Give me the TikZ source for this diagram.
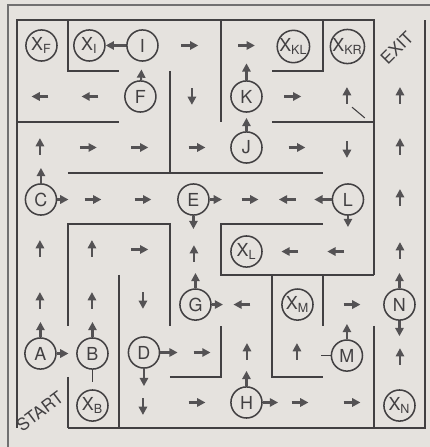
\documentclass[tikz,border=0pt]{standalone}
\usepackage{fontspec}
\setmainfont{TeX Gyre Heros}
\usepackage{tikz}
\usetikzlibrary{arrows.meta}
\definecolor{paper}{RGB}{229,226,222}
\definecolor{ink}{RGB}{66,64,66}
\definecolor{pen}{RGB}{84,82,84}

\tikzset{
  wall/.style={draw=ink, line width=0.9pt},
  room/.style={circle, draw=ink, line width=0.85pt, minimum size=0.61cm, inner sep=0pt,
    text=ink, font=\fontsize{10}{12}\selectfont},
  sign/.style={text=ink, inner sep=0pt, font=\fontsize{9.5}{11}\selectfont},
  arr/.style={draw=pen, line width=1.2pt, -{Triangle[length=4.6pt,width=4.6pt]}},
  stub/.style={draw=ink, line width=0.8pt},
}

\begin{document}
\begin{tikzpicture}
	% paper and frame
	\fill[paper] (-0.333,-0.373) rectangle (8.098,8.392);
	\useasboundingbox (-0.333,-0.373) rectangle (8.098,8.392);
	\draw[ink!75, line width=0.6pt] (-0.176,-0.373) |- (8.098,8.294);
	
	% walls of the maze
	\draw[wall] (7,3) -- (7,8) -- (0,8) -- (0,0);
	\draw[wall] (1,0) -- (8,0) -- (8,8);
	\draw[wall] (1,8) -- (1,7) -- (2,7);
	\draw[wall] (0,6) -- (2,6);
	\draw[wall] (3,7) -- (3,5);
	\draw[wall] (1,5) -- (6,5);
	\draw[wall] (4,8) -- (4,6);
	\draw[wall] (6,8) -- (6,7) -- (5,7);
	\draw[wall] (5,6) -- (7,6);
	\draw[wall] (7,3) -- (4,3) -- (4,4) -- (6,4);
	\draw[wall] (1,2) -- (1,4) -- (3,4) -- (3,2);
	\draw[wall] (2,3) -- (2,0);
	\draw[wall] (1,1) -- (1,0);
	\draw[wall] (3,1) -- (4,1) -- (4,2);
	\draw[wall] (5,3) -- (5,1) -- (6,1);
	\draw[wall] (6,3) -- (6,2);
	\draw[wall] (7,2) -- (7,0);
	
	% rooms
	\node[room] (xF) at (0.48,7.5) {X\textsubscript{F}};
	\node[room] (xI) at (1.42,7.5) {X\textsubscript{I}};
	\node[room] (I) at (2.46,7.5) {I};
	\node[room] (xKL) at (5.42,7.48) {X\textsubscript{KL}};
	\node[room] (xKR) at (6.48,7.48) {X\textsubscript{KR}};
	\node[room] (F) at (2.42,6.5) {F};
	\node[room] (K) at (4.5,6.5) {K};
	\node[room] (J) at (4.5,5.5) {J};
	\node[room] (C) at (0.47,4.48) {C};
	\node[room] (E) at (3.46,4.48) {E};
	\node[room] (L) at (6.49,4.48) {L};
	\node[room] (xL) at (4.5,3.46) {X\textsubscript{L}};
	\node[room] (G) at (3.5,2.42) {G};
	\node[room] (xM) at (5.5,2.42) {X\textsubscript{M}};
	\node[room] (N) at (7.5,2.42) {N};
	\node[room] (A) at (0.46,1.46) {A};
	\node[room] (B) at (1.48,1.46) {B};
	\node[room] (D) at (2.49,1.48) {D};
	\node[room] (M) at (6.47,1.42) {M};
	\node[room] (xB) at (1.48,0.44) {X\textsubscript{B}};
	\node[room] (H) at (4.5,0.5) {H};
	\node[room] (xN) at (7.5,0.44) {X\textsubscript{N}};
	
	\node[sign, rotate=45] (exit) at (7.45,7.45) {EXIT};
	\node[sign, rotate=37] (start) at (0.45,0.33) {START};
	
	% arrows between rooms
	\draw[arr] (I) -- (xI);
	\draw[arr, shorten >=0.15cm] (F) -- (I);
	\draw[arr, shorten >=0.1cm] (J) -- (K);
	\draw[arr, shorten >=0.15cm] (A) -- (B);
	
	% arrows leaving rooms
	\draw[arr] (K.north) -- ++(0,0.33);
	\draw[arr] (C.north) -- ++(0,0.3);
	\draw[arr] (C.east) -- ++(0.22,0);
	\draw[arr] (E.east) -- ++(0.24,0);
	\draw[arr] (E.south) -- ++(0,-0.26);
	\draw[arr] (L.west) -- ++(-0.34,0);
	\draw[arr] (L.south) -- ++(0,-0.22);
	\draw[arr] (G.north) -- ++(0,0.3);
	\draw[arr] (G.east) -- ++(0.22,0);
	\draw[arr] (N.north) -- ++(0,0.3);
	\draw[arr] (N.south) -- ++(0,-0.3);
	\draw[arr] (A.north) -- ++(0,0.3);
	\draw[arr] (B.north) -- ++(0,0.3);
	\draw[arr] (D.east) -- ++(0.34,0);
	\draw[arr] (D.south) -- ++(0,-0.34);
	\draw[arr] (M.north) -- ++(0,0.3);
	\draw[arr] (H.north) -- ++(0,0.3);
	\draw[arr] (H.east) -- ++(0.3,0);
	\draw[stub] (B.south) -- ++(0,-0.24);
	\draw[stub] (M.west) -- ++(-0.18,0);
	\draw[stub, line width=0.6pt] (6.57,6.29) -- (6.82,6.08);
	
	% arrows in the corridors
	\foreach \x/\y/\a in {3.39/7.5/0, 4.5/7.5/0,
		0.45/6.5/180, 1.43/6.5/180, 3.43/6.5/270, 5.41/6.5/0, 6.47/6.52/90, 7.51/6.52/90,
		0.45/5.52/90, 1.4/5.5/0, 2.41/5.5/0, 3.53/5.5/0, 5.49/5.5/0, 6.47/5.46/270, 7.51/5.52/90,
		1.49/4.48/0, 2.47/4.48/0, 4.57/4.48/0, 5.3/4.48/180, 7.51/4.52/90,
		0.45/3.52/90, 1.47/3.52/90, 2.41/3.5/0, 3.47/3.42/90, 5.35/3.46/180, 6.25/3.46/180, 7.51/3.48/90,
		0.45/2.5/90, 1.47/2.5/90, 2.47/2.5/270, 4.41/2.42/180, 6.57/2.42/0,
		3.63/1.48/0, 4.51/1.5/90, 5.49/1.5/90, 7.51/1.4/90,
		2.47/0.42/270, 3.53/0.5/0, 5.55/0.5/0, 6.57/0.5/0}
		\draw[arr, shift={(\x,\y)}, rotate=\a] (-0.165,0) -- (0.165,0);
\end{tikzpicture}
\end{document}
